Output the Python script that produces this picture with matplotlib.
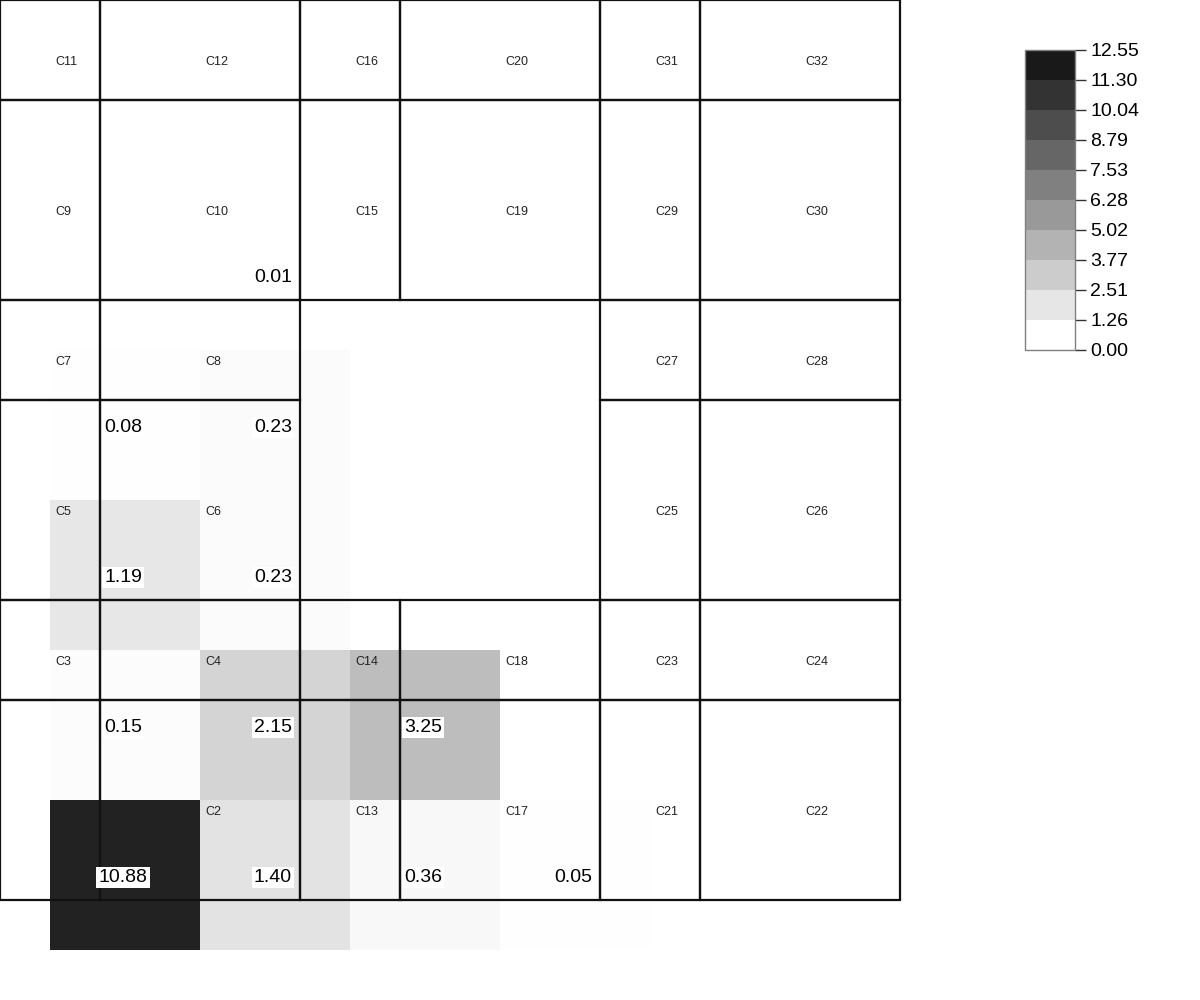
import numpy as np
import matplotlib
matplotlib.use('Agg')
import matplotlib.pyplot as plt
from matplotlib.patches import Rectangle
from matplotlib.colors import LinearSegmentedColormap, ListedColormap, BoundaryNorm
from matplotlib.cm import ScalarMappable

plt.rcParams['font.family'] = ['Liberation Sans', 'DejaVu Sans']

# cell layout: column / row edges of the grid, names per row (bottom row first)
COL_EDGES = [0, 1, 3, 4, 6, 7, 9]
ROW_EDGES = [0, 2, 3, 5, 6, 8, 9]
CELL_NAMES = [
    ['C1', 'C2', 'C13', 'C17', 'C21', 'C22'],
    ['C3', 'C4', 'C14', 'C18', 'C23', 'C24'],
    ['C5', 'C6', None, None, 'C25', 'C26'],
    ['C7', 'C8', None, None, 'C27', 'C28'],
    ['C9', 'C10', 'C15', 'C19', 'C29', 'C30'],
    ['C11', 'C12', 'C16', 'C20', 'C31', 'C32'],
]

# heatmap bins and values (bottom row first), nan = no data
HEAT_X = [0.5, 2.0, 3.5, 5.0, 6.5]
HEAT_Y = [-0.5, 1.0, 2.5, 4.0, 5.5, 7.0]
HEAT_VALUES = [
    [10.88, 1.40, 0.36, 0.05],
    [0.15, 2.15, 3.25, np.nan],
    [1.19, 0.23, np.nan, np.nan],
    [0.08, 0.23, np.nan, np.nan],
    [np.nan, 0.01, np.nan, np.nan],
]

VMAX = 12.55
N_LEVELS = 10


def draw_grid(ax):
    for i, row in enumerate(CELL_NAMES):
        y0, y1 = ROW_EDGES[i], ROW_EDGES[i + 1]
        for j, name in enumerate(row):
            if name is None:
                continue
            x0, x1 = COL_EDGES[j], COL_EDGES[j + 1]
            ax.add_patch(Rectangle((x0, y0), x1 - x0, y1 - y0, fill=False,
                                   edgecolor='#111111', linewidth=1.6,
                                   zorder=3, clip_on=False))
            ax.text((x0 + x1) / 2 + 0.05, (y0 + y1) / 2 - 0.12, name,
                    fontsize=9, color='#222222', ha='left', va='center',
                    zorder=4)


def draw_heatmap(ax):
    vals = np.ma.masked_invalid(np.array(HEAT_VALUES))
    cmap = LinearSegmentedColormap.from_list('w2k', ['white', 'black'])
    ax.pcolormesh(HEAT_X, HEAT_Y, vals, cmap=cmap, vmin=0, vmax=VMAX,
                  zorder=1)
    xc = (np.array(HEAT_X[:-1]) + np.array(HEAT_X[1:])) / 2
    yc = (np.array(HEAT_Y[:-1]) + np.array(HEAT_Y[1:])) / 2
    for i in range(len(yc)):
        for j in range(len(xc)):
            v = HEAT_VALUES[i][j]
            if np.isnan(v):
                continue
            ax.text(xc[j] - 0.02, yc[i] - 0.025, f'{v:.2f}', fontsize=14,
                    ha='center', va='center', zorder=5,
                    bbox=dict(facecolor='white', edgecolor='none', pad=1.5))


def draw_colorbar(fig):
    levels = np.linspace(0, VMAX, N_LEVELS + 1)
    greys = [str(1 - i / N_LEVELS) for i in range(N_LEVELS)]
    cmap = ListedColormap(greys)
    norm = BoundaryNorm(levels, N_LEVELS)
    cax = fig.add_axes([0.8542, 0.65, 0.0417, 0.30])
    cb = fig.colorbar(ScalarMappable(norm=norm, cmap=cmap), cax=cax,
                      ticks=levels, format='%.2f')
    cb.outline.set_edgecolor('#808080')
    cb.outline.set_linewidth(1)
    cax.tick_params(labelsize=14, length=8, width=1, color='#333333', pad=3)


fig = plt.figure(figsize=(12, 10), dpi=100)
ax = fig.add_axes([0, 0, 1, 1])
ax.set_xlim(0, 12)
ax.set_ylim(-1, 9)
ax.axis('off')

draw_heatmap(ax)
draw_grid(ax)
draw_colorbar(fig)

fig.savefig('out.png', dpi=100)
